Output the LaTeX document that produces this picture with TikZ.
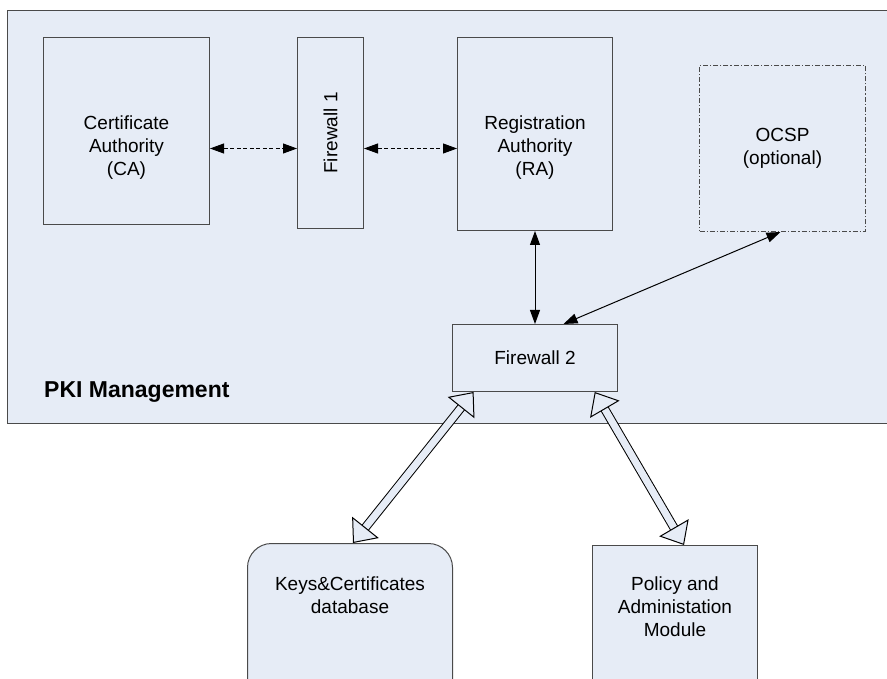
\documentclass[tikz,border=0pt]{standalone}
\usepackage{fontspec}
\setmainfont{Liberation Sans}
\usepackage{xcolor}
\usepackage{tikz}
\usetikzlibrary{arrows.meta}
\usetikzlibrary{calc}
\definecolor{panelfill}{HTML}{E6ECF6}
\definecolor{edgegray}{HTML}{4A4A4A}
\tikzset{
    tnode/.style = {align=center, inner sep=0pt, text centered},
    box/.style = {tnode, rectangle, draw=edgegray, fill=panelfill, line width=1pt, anchor=north west},
    optbox/.style = {box, dash pattern=on 5pt off 2pt on 1.2pt off 2pt},
    panel/.style = {rectangle, draw=edgegray, fill=panelfill, line width=1.2pt, anchor=north west},
    title/.style = {tnode, font=\fontsize{23}{27}\selectfont\bfseries}
}
\tikzset{
    dashline/.style = {<->, black, line width=0.9pt, dash pattern=on 4pt off 2.5pt},
    solidline/.style = {<->, black, line width=1pt},
    hollow/.style = {line width=1pt, double=panelfill, double distance=7pt,
        {Triangle[length=20pt,width=34pt,fill=panelfill]}-{Triangle[length=20pt,width=34pt,fill=panelfill]}}
}

\begin{document}
\begin{tikzpicture}
            [x=1pt, y=-1pt,
            >={Triangle[length=14pt,width=10pt]},
            every node/.style={font=\fontsize{19}{23}\selectfont}]

            \useasboundingbox (0,0) rectangle (887,679);
            \clip (0,0) rectangle (887,679);

            % PKI Management
            \node [panel, minimum width=920pt, minimum height=413pt] (pki) at (7,10) {};
            \node [title, anchor=base west] (pkititle) at (44,397) {PKI Management};

            \node [box, minimum width=166pt, minimum height=187pt] (ca) at (43,37) {};
            \node [tnode] (catext) at ($(ca.north)+(0,111)$) {Certificate\\Authority\\(CA)};
            \node [box, minimum width=66pt, minimum height=191pt] (fwone) at (297,37) {};
            \node [tnode, rotate=90] (fwonetext) at (fwone.center) {Firewall 1};
            \node [box, minimum width=155pt, minimum height=193pt] (ra) at (457,37) {};
            \node [tnode] (ratext) at ($(ra.north)+(0,111)$) {Registration\\Authority\\(RA)};
            \node [optbox, minimum width=166pt, minimum height=166pt] (ocsp) at (699,65) {OCSP\\(optional)};
            \node [box, minimum width=165pt, minimum height=67pt] (fwtwo) at (452,324) {Firewall 2};

            % outside the panel
            \node [box, rounded corners=24pt, minimum width=205pt, minimum height=170pt] (keys) at (247,543) {};
            \node [tnode] (keystext) at ($(keys.north)+(0,52)$) {Keys\&Certificates\\database};
            \node [box, minimum width=165pt, minimum height=170pt] (policy) at (592,545) {};
            \node [tnode] (policytext) at ($(policy.north)+(0,62)$) {Policy and\\Administation\\Module};

            \draw [dashline] ($(ca.east)+(0,17.5)$) -- ($(fwone.west)+(0,15.5)$);
            \draw [dashline] ($(fwone.east)+(0,15.5)$) -- ($(ra.west)+(0,14.5)$);
            \draw [solidline] (ra) -- (fwtwo);
            \draw [solidline] ($(ocsp.south)+(-2,0)$) -- ($(fwtwo.north)+(28.5,0)$);
            \draw [hollow] ($(fwtwo.south west)!0.13!(fwtwo.south east)$) -- ($(keys.north)+(3,0)$);
            \draw [hollow] ($(fwtwo.south west)!0.86!(fwtwo.south east)$) -- ($(policy.north)+(9,0)$);
        \end{tikzpicture}
\end{document}
